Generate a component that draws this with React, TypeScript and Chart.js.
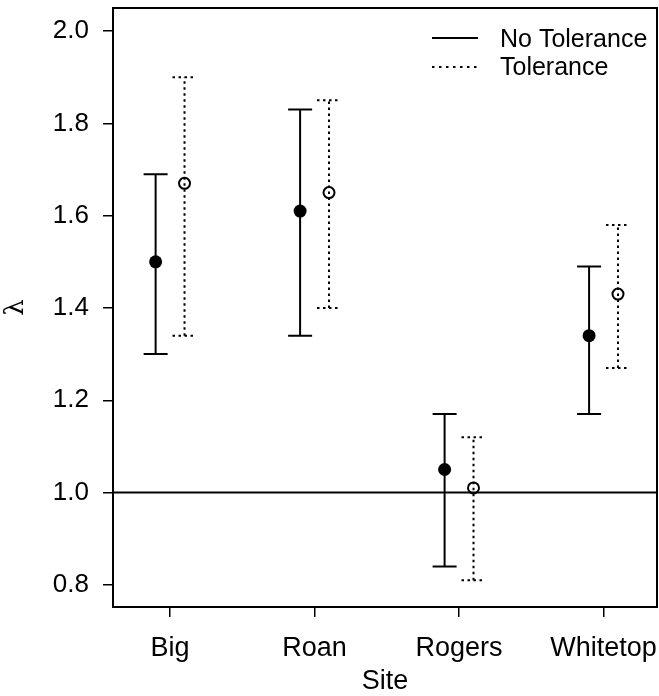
import React, { useEffect, useRef } from "react";
import { Chart, registerables } from "chart.js";

Chart.register(...registerables);

const sites = ["Big", "Roan", "Rogers", "Whitetop"];
const noTolMean = [1.5, 1.61, 1.05, 1.34];
const noTolLower = [1.3, 1.34, 0.84, 1.17];
const noTolUpper = [1.69, 1.83, 1.17, 1.49];
const tolMean = [1.67, 1.65, 1.01, 1.43];
const tolLower = [1.34, 1.4, 0.81, 1.27];
const tolUpper = [1.9, 1.85, 1.12, 1.58];
const yTicks = [0.8, 1.0, 1.2, 1.4, 1.6, 1.8, 2.0];
const refValue = 1.0;
const seriesNames = ["No Tolerance", "Tolerance"];

const OFFSET = 0.1;
const FONT = "'Liberation Sans', Arial, sans-serif";

const zeroPad = (s: any) => {
  s.paddingTop = 0;
  s.paddingBottom = 0;
  s.paddingLeft = 0;
  s.paddingRight = 0;
};

const customPlugin = {
  id: "custom",
  beforeDatasetsDraw(chart: any) {
    const { ctx, chartArea, scales } = chart;
    const x = scales.x;
    const y = scales.y;
    ctx.save();
    ctx.strokeStyle = "#000";
    ctx.lineWidth = 2;
    const yr = y.getPixelForValue(refValue);
    ctx.beginPath();
    ctx.moveTo(chartArea.left, yr);
    ctx.lineTo(chartArea.right, yr);
    ctx.stroke();

    const drawBar = (xv: number, lo: number, hi: number, dotted: boolean) => {
      const px = x.getPixelForValue(xv);
      const pl = y.getPixelForValue(lo);
      const ph = y.getPixelForValue(hi);
      const cap = 12;
      ctx.setLineDash(dotted ? [2.5, 3.5] : []);
      ctx.beginPath();
      ctx.moveTo(px, pl);
      ctx.lineTo(px, ph);
      ctx.moveTo(px - cap, pl);
      ctx.lineTo(px + cap, pl);
      ctx.moveTo(px - cap, ph);
      ctx.lineTo(px + cap, ph);
      ctx.stroke();
    };
    sites.forEach((_, i) => {
      drawBar(i + 1 - OFFSET, noTolLower[i], noTolUpper[i], false);
      drawBar(i + 1 + OFFSET, tolLower[i], tolUpper[i], true);
    });
    ctx.restore();
  },
  afterDraw(chart: any) {
    const { ctx, chartArea } = chart;
    ctx.save();
    ctx.strokeStyle = "#000";
    ctx.lineWidth = 2;
    ctx.setLineDash([]);
    ctx.strokeRect(
      chartArea.left,
      chartArea.top,
      chartArea.right - chartArea.left,
      chartArea.bottom - chartArea.top
    );
    ctx.fillStyle = "#000";
    ctx.font = `25px ${FONT}`;
    ctx.textAlign = "left";
    ctx.textBaseline = "middle";
    ctx.beginPath();
    ctx.moveTo(432, 38);
    ctx.lineTo(478, 38);
    ctx.stroke();
    ctx.fillText(seriesNames[0], 500, 40);
    ctx.setLineDash([2.5, 4.5]);
    ctx.beginPath();
    ctx.moveTo(432, 67);
    ctx.lineTo(478, 67);
    ctx.stroke();
    ctx.setLineDash([]);
    ctx.fillText(seriesNames[1], 500, 68);
    ctx.font = `27px ${FONT}`;
    ctx.textAlign = "center";
    ctx.fillText("Site", (chartArea.left + chartArea.right) / 2, 682);
    ctx.translate(16, (chartArea.top + chartArea.bottom) / 2);
    ctx.rotate(-Math.PI / 2);
    ctx.font = `26px 'DejaVu Serif', 'Liberation Serif', serif`;
    ctx.fillText("λ", 0, 0);
    ctx.restore();
  },
};

export default function App() {
  const ref = useRef<HTMLCanvasElement>(null);
  useEffect(() => {
    document.body.style.margin = "0";
    const canvas = ref.current!;
    const chart = new Chart(canvas, {
      type: "scatter",
      data: {
        datasets: [
          {
            label: seriesNames[0],
            data: sites.map((_, i) => ({ x: i + 1 - OFFSET, y: noTolMean[i] })),
            pointRadius: 6.5,
            pointBackgroundColor: "#000",
            pointBorderColor: "#000",
            pointBorderWidth: 0,
          },
          {
            label: seriesNames[1],
            data: sites.map((_, i) => ({ x: i + 1 + OFFSET, y: tolMean[i] })),
            pointRadius: 5.5,
            pointBackgroundColor: "rgba(0,0,0,0)",
            pointBorderColor: "#000",
            pointBorderWidth: 2,
          },
        ],
      },
      plugins: [customPlugin],
      options: {
        animation: false,
        responsive: false,
        devicePixelRatio: 1,
        layout: {
          autoPadding: false,
          padding: { top: 8, right: 2, left: 0, bottom: 0 },
        },
        plugins: {
          legend: { display: false },
          tooltip: { enabled: false },
        },
        scales: {
          x: {
            type: "linear",
            min: 0.605,
            max: 4.37,
            afterFit: (s: any) => {
              s.height = 89;
              zeroPad(s);
            },
            afterBuildTicks: (s: any) => {
              s.ticks = sites.map((_, i) => ({ value: i + 1 }));
            },
            grid: {
              drawOnChartArea: false,
              drawTicks: true,
              tickLength: 10,
              color: "#000",
              lineWidth: 1.5,
            },
            border: { display: false },
            ticks: {
              autoSkip: false,
              maxRotation: 0,
              padding: 15,
              color: "#000",
              font: { size: 27, family: FONT },
              callback: (v: any) => sites[Math.round(v) - 1] ?? "",
            },
          },
          y: {
            type: "linear",
            min: 0.752,
            max: 2.05,
            afterFit: (s: any) => {
              s.width = 113;
              zeroPad(s);
            },
            afterBuildTicks: (s: any) => {
              s.ticks = yTicks.map((v) => ({ value: v }));
            },
            grid: {
              drawOnChartArea: false,
              drawTicks: true,
              tickLength: 10,
              color: "#000",
              lineWidth: 1.5,
            },
            border: { display: false },
            ticks: {
              padding: 14,
              color: "#000",
              font: { size: 26, family: FONT },
              callback: (v: any) => Number(v).toFixed(1),
            },
          },
        },
      },
    } as any);
    return () => chart.destroy();
  }, []);
  return (
    <canvas
      ref={ref}
      width={659}
      height={696}
      style={{ display: "block", width: 659, height: 696 }}
    />
  );
}
